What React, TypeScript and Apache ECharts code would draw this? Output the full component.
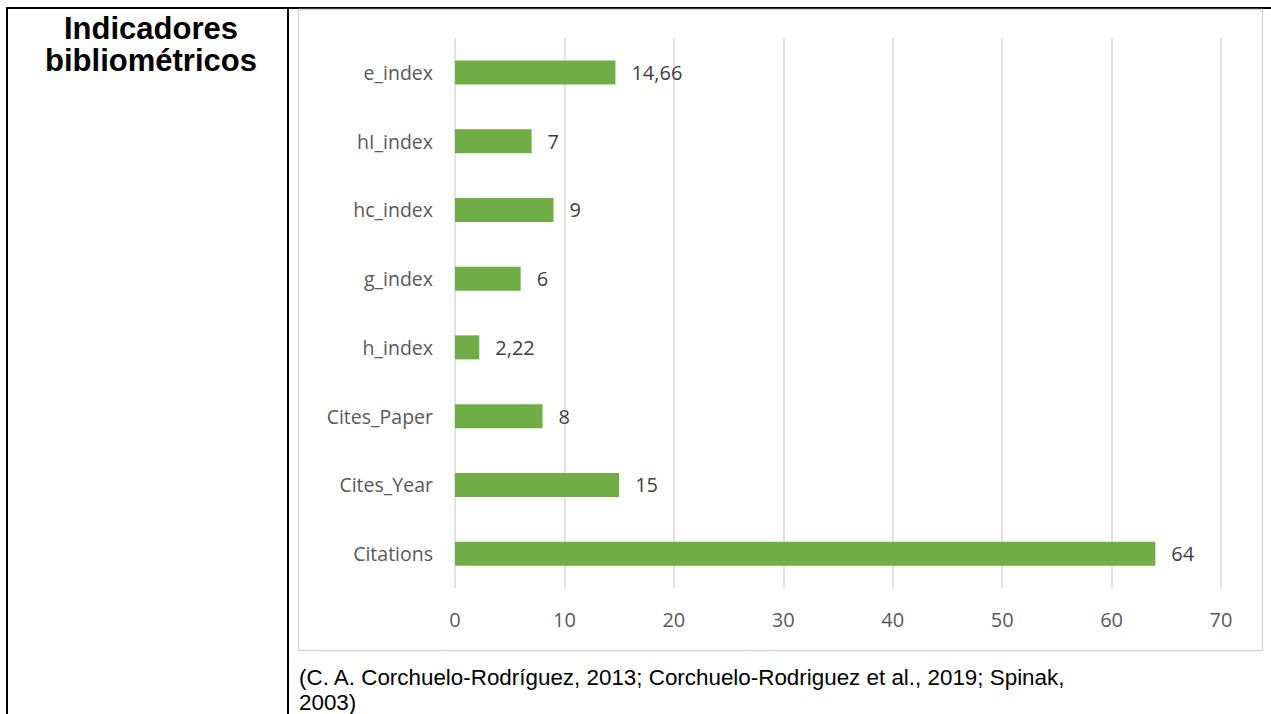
import React, { useEffect, useRef } from "react";
import * as echarts from "echarts";

const categories = ["e_index", "hI_index", "hc_index", "g_index", "h_index", "Cites_Paper", "Cites_Year", "Citations"];
const values = [14.66, 7, 9, 6, 2.22, 8, 15, 64];
const valueLabels = ["14,66", "7", "9", "6", "2,22", "8", "15", "64"];
const xTicks = { min: 0, max: 70, interval: 10 };
const titleLines = ["Indicadores", "bibliométricos"];
const sourceLines = [
  "(C. A. Corchuelo-Rodríguez, 2013; Corchuelo-Rodriguez et al., 2019; Spinak,",
  "2003)",
];

export default function App() {
  const ref = useRef<HTMLDivElement>(null);
  useEffect(() => {
    if (!ref.current) return;
    const chart = echarts.init(ref.current, null, { renderer: "svg" });
    const labelFont = "'Open Sans', 'Noto Sans', sans-serif";
    const arial = "'Liberation Sans', Arial, sans-serif";
    chart.setOption({
      animation: false,
      backgroundColor: "#ffffff",
      grid: { left: 455, right: 50, top: 38, bottom: 126, containLabel: false },
      xAxis: {
        type: "value",
        min: xTicks.min,
        max: xTicks.max,
        interval: xTicks.interval,
        axisLine: { show: false },
        axisTick: { show: false },
        splitLine: { show: true, lineStyle: { color: "#D9D9D9", width: 1.5 } },
        axisLabel: { color: "#595959", fontSize: 20, fontFamily: labelFont, margin: 21 },
      },
      yAxis: {
        type: "category",
        data: categories,
        inverse: true,
        axisLine: { show: false },
        axisTick: { show: false },
        splitLine: { show: false },
        axisLabel: { color: "#595959", fontSize: 19.5, fontFamily: labelFont, margin: 22 },
      },
      series: [
        {
          type: "bar",
          data: values,
          barWidth: 24,
          itemStyle: { color: "#70AD47" },
          label: {
            show: true,
            position: "right",
            distance: 16,
            color: "#404040",
            fontSize: 20,
            fontFamily: labelFont,
            formatter: (p: any) => valueLabels[p.dataIndex],
          },
        },
      ],
      graphic: [
        { type: "rect", shape: { x: 6, y: 7, width: 1265, height: 2 }, style: { fill: "#000" } },
        { type: "rect", shape: { x: 6, y: 7, width: 2, height: 707 }, style: { fill: "#000" } },
        { type: "rect", shape: { x: 287, y: 7, width: 2, height: 707 }, style: { fill: "#000" } },
        {
          type: "rect",
          shape: { x: 298.5, y: 9.5, width: 964, height: 641 },
          style: { fill: "none", stroke: "#D9D9D9", lineWidth: 1.5 },
        },
        ...titleLines.map((t, i) => ({
          type: "text",
          x: 151,
          y: 28 + i * 32,
          style: {
            text: t,
            fill: "#000",
            font: `bold 31px ${arial}`,
            textAlign: "center",
            textVerticalAlign: "middle",
          },
        })),
        ...sourceLines.map((t, i) => ({
          type: "text",
          x: 299,
          y: 677 + i * 25,
          style: {
            text: t,
            fill: "#000",
            font: `22.4px ${arial}`,
            textAlign: "left",
            textVerticalAlign: "middle",
          },
        })),
      ],
    });
    return () => chart.dispose();
  }, []);
  return (
    <div
      ref={ref}
      style={{ position: "fixed", left: 0, top: 0, width: 1271, height: 714 }}
    />
  );
}
